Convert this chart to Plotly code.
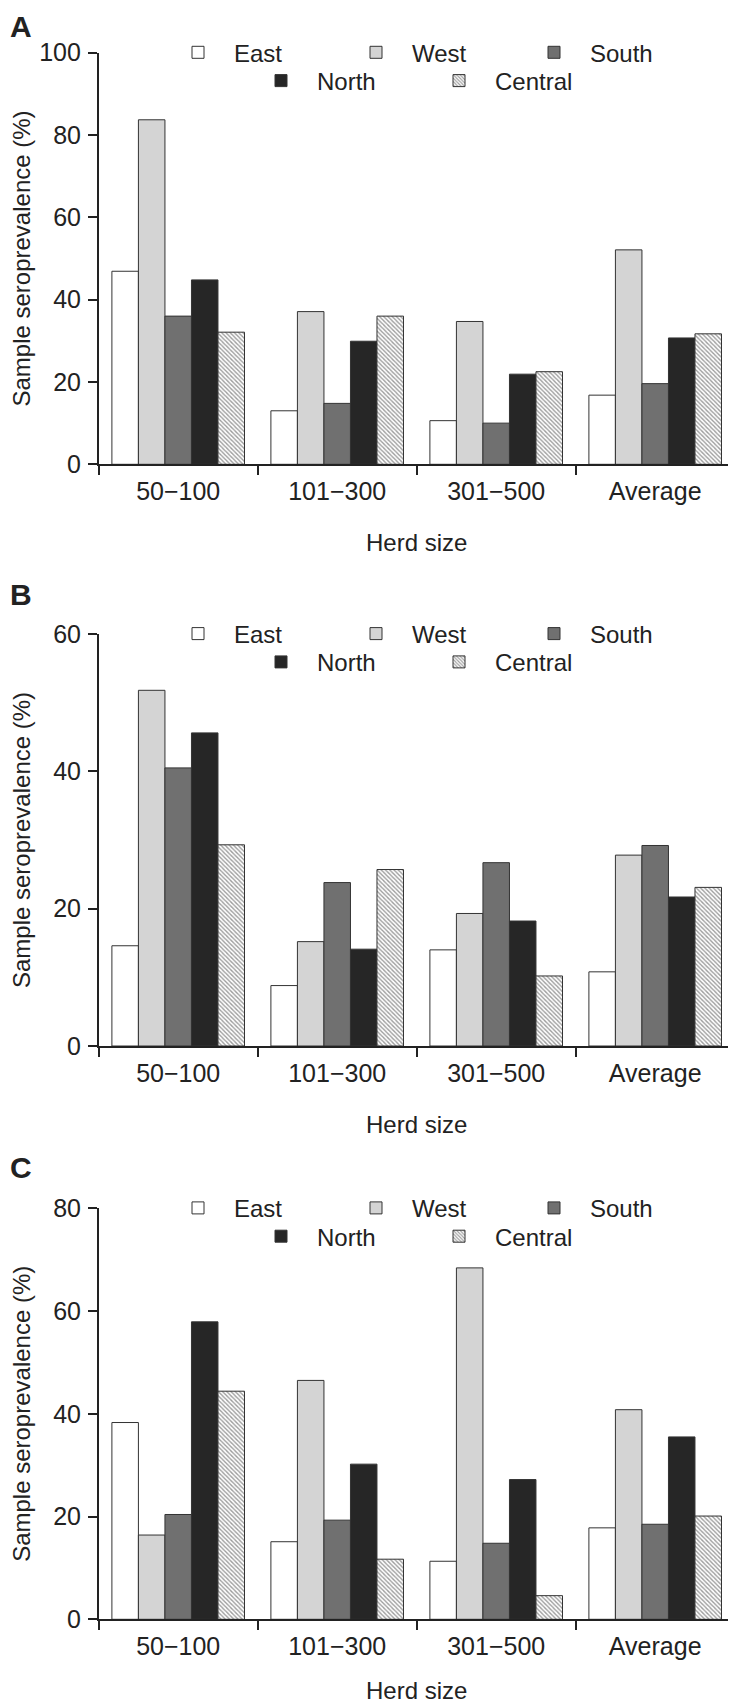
import plotly.graph_objects as go

categories = ["50\u2212100", "101\u2212300", "301\u2212500", "Average"]
regions = ["East", "West", "South", "North", "Central"]

# Panel A
A_east = [46.9, 13.0, 10.6, 16.8]
A_west = [83.7, 37.1, 34.7, 52.1]
A_south = [36.0, 14.8, 10.0, 19.6]
A_north = [44.8, 29.9, 21.9, 30.7]
A_central = [32.1, 36.0, 22.5, 31.7]

# Panel B
B_east = [14.6, 8.8, 14.0, 10.8]
B_west = [51.8, 15.2, 19.3, 27.8]
B_south = [40.5, 23.8, 26.7, 29.2]
B_north = [45.6, 14.1, 18.2, 21.7]
B_central = [29.3, 25.7, 10.2, 23.1]

# Panel C
C_east = [38.3, 15.1, 11.3, 17.8]
C_west = [16.4, 46.5, 68.4, 40.8]
C_south = [20.4, 19.3, 14.8, 18.5]
C_north = [57.9, 30.2, 27.2, 35.5]
C_central = [44.4, 11.7, 4.6, 20.1]

panel_labels = ["A", "B", "C"]
y_max = [100, 60, 80]
y_title = "Sample seroprevalence (%)"
x_title = "Herd size"

# page is 736x1704; the html body adds an 8px margin, so the figure is 8px smaller
OFF = 8
W, H = 736 - OFF, 1704 - OFF
FONT = "Liberation Sans, Arial, Helvetica, sans-serif"
INK = "#222222"


def px_x(x):
    return (x - OFF) / W


def px_y(y):
    return 1 - (y - OFF) / H


fills = {"East": "#ffffff", "West": "#d4d4d4", "South": "#707070",
         "North": "#262626", "Central": "#ffffff"}

panels = [
    [A_east, A_west, A_south, A_north, A_central],
    [B_east, B_west, B_south, B_north, B_central],
    [C_east, C_west, C_south, C_north, C_central],
]

# page-pixel geometry (top tick y, zero y)
y_px = [(52.7, 464.3), (634.0, 1046.0), (1208.3, 1619.3)]
x_dom = [px_x(98.7), px_x(734.7)]
y_std = [14, 27, 27]
label_y = [None, 594.5, 1167.5]

fig = go.Figure()
layout = dict(
    width=W, height=H,
    margin=dict(l=0, r=0, t=0, b=0),
    paper_bgcolor="white", plot_bgcolor="white",
    barmode="group", bargap=0.166, bargroupgap=0,
    font=dict(family=FONT, size=24, color=INK),
    annotations=[],
)

for p, series in enumerate(panels):
    sfx = "" if p == 0 else str(p + 1)
    xa, ya = "x" + sfx, "y" + sfx
    leg_top = "legend" if p == 0 else "legend" + str(2 * p + 1)
    leg_bot = "legend" + str(2 * p + 2)
    for r, name in enumerate(regions):
        marker = dict(color=fills[name], line=dict(color="#333333", width=1))
        if name == "Central":
            marker["pattern"] = dict(shape="\\", fgcolor="#3a3a3a", bgcolor="#ffffff",
                                     size=3, solidity=0.45)
        fig.add_trace(go.Bar(
            x=categories, y=series[r], name=name, marker=marker,
            xaxis=xa, yaxis=ya,
            legend=leg_top if r < 3 else leg_bot,
        ))
    top, zero = y_px[p]
    layout["xaxis" + sfx] = dict(
        domain=x_dom, anchor=ya, type="category",
        range=[-0.5, 3.5],
        showline=True, linecolor=INK, linewidth=1.5,
        ticks="outside", tickson="boundaries", ticklen=9, tickwidth=1.5, tickcolor=INK,
        tickfont=dict(size=25), ticklabelstandoff=4,
        showgrid=False, zeroline=False,
        title=dict(text=x_title, font=dict(size=24), standoff=30),
        automargin=False,
    )
    layout["yaxis" + sfx] = dict(
        domain=[px_y(zero), px_y(top)], anchor=xa,
        range=[0, y_max[p]], dtick=20,
        showline=True, linecolor=INK, linewidth=1.5,
        ticks="outside", ticklen=9, tickwidth=1.5, tickcolor=INK,
        tickfont=dict(size=25), ticklabelstandoff=2,
        showgrid=False, zeroline=False,
        title=dict(text=y_title, font=dict(size=24), standoff=y_std[p]),
        automargin=False,
    )
    common = dict(orientation="h", xanchor="left", yanchor="middle",
                  itemwidth=62, entrywidth=101, entrywidthmode="pixels",
                  font=dict(size=24), bgcolor="rgba(0,0,0,0)",
                  traceorder="normal", itemclick=False, itemdoubleclick=False)
    layout[leg_top] = dict(x=px_x(162), y=px_y(top), **common)
    layout[leg_bot] = dict(x=px_x(245), y=px_y(top + 28.3), **common)
    if p == 0:
        ann_pos = dict(y=1, yanchor="top")
    else:
        ann_pos = dict(y=px_y(label_y[p]), yanchor="middle")
    layout["annotations"].append(dict(
        text="<b>%s</b>" % panel_labels[p], xref="paper", yref="paper",
        x=0, xanchor="left", showarrow=False,
        font=dict(size=30, family=FONT, color=INK), **ann_pos,
    ))

fig.update_layout(**layout)
fig.write_html("out.html")
